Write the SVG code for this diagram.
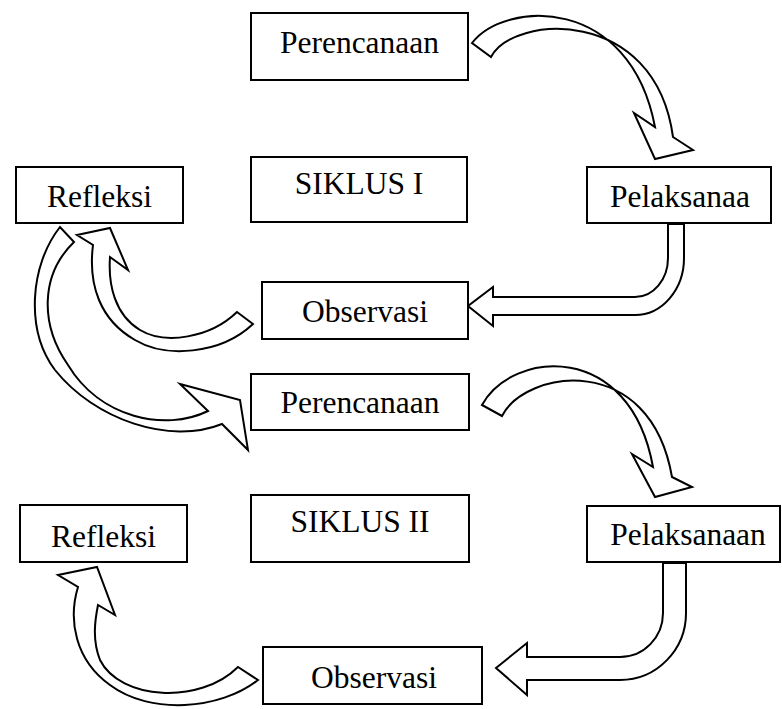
<svg xmlns="http://www.w3.org/2000/svg" width="782" height="709" viewBox="0 0 782 709">
<style>
.box{fill:#fff;stroke:#000;stroke-width:2}
.arr{fill:#fff;stroke:#000;stroke-width:2;stroke-linejoin:miter}
text{font-family:"Liberation Serif","Times New Roman",serif;font-size:31.5px;fill:#000;text-anchor:middle}
</style>
<rect width="782" height="709" fill="#fff"/>
<g id="connectors">
<path class="arr" d="M472,43 C505,0 630,-5 655,127 L634,113 L655,159 L693,150 L673,137 C655,5 512,15 491,57 Z"/>
<path class="arr" d="M668,224 L668,258 A33,39 0 0 1 635,297 L493,297 L493,287 L468,306 L493,326 L493,315 L635,315 A49,57 0 0 0 684,258 L684,224 Z"/>
<path class="arr" d="M60,227 C30,265 25,330 55,370 C95,420 170,445 222,424 L248,450 L240,400 L180,384 L208,411 C165,432 100,418 68,365 C40,325 40,275 74,242 Z"/>
<path class="arr" d="M237,312 C210,338 165,345 140,330 C115,315 108,285 110,257 L128,270 L110,228 L77,235 L93,245 C88,285 100,320 135,340 C165,358 220,355 253,324 Z"/>
<path class="arr" d="M482,405 C512,350 630,340 653,467 L632,454 L655,497 L692,487 L672,477 C650,350 525,370 502,416 Z"/>
<path class="arr" d="M663,563 L663,613 A43,44 0 0 1 620,657 L527,657 L527,643 L496,668 L527,695 L527,680 L620,680 A66,67 0 0 0 686,613 L686,563 Z"/>
<path class="arr" d="M238,667 C200,705 120,700 100,660 C92,640 95,620 98,605 L115,615 L97,567 L58,575 L78,587 C68,620 75,660 110,685 C150,715 220,710 258,680 Z"/>
</g>
<g id="perencanaan1"><rect class="box" x="251" y="13" width="217" height="67"/><text x="359.5" y="53">Perencanaan</text></g>
<g id="siklus1"><rect class="box" x="251" y="157" width="216" height="65"/><text x="359" y="194">SIKLUS I</text></g>
<g id="refleksi1"><rect class="box" x="16" y="167" width="167" height="56"/><text x="99.5" y="207">Refleksi</text></g>
<g id="pelaksanaa1"><rect class="box" x="587" y="167" width="184" height="56"/><text x="680" y="207">Pelaksanaa</text></g>
<g id="observasi1"><rect class="box" x="262" y="282" width="206" height="57"/><text x="365" y="322">Observasi</text></g>
<g id="perencanaan2"><rect class="box" x="251" y="374" width="218" height="56"/><text x="360" y="413">Perencanaan</text></g>
<g id="siklus2"><rect class="box" x="251" y="495" width="218" height="67"/><text x="360" y="532">SIKLUS II</text></g>
<g id="refleksi2"><rect class="box" x="20" y="505" width="167" height="57"/><text x="103.5" y="547">Refleksi</text></g>
<g id="pelaksanaan2"><rect class="box" x="587" y="506" width="193" height="56"/><text x="688" y="545">Pelaksanaan</text></g>
<g id="observasi2"><rect class="box" x="263" y="647" width="219" height="57"/><text x="374" y="688">Observasi</text></g>
</svg>
